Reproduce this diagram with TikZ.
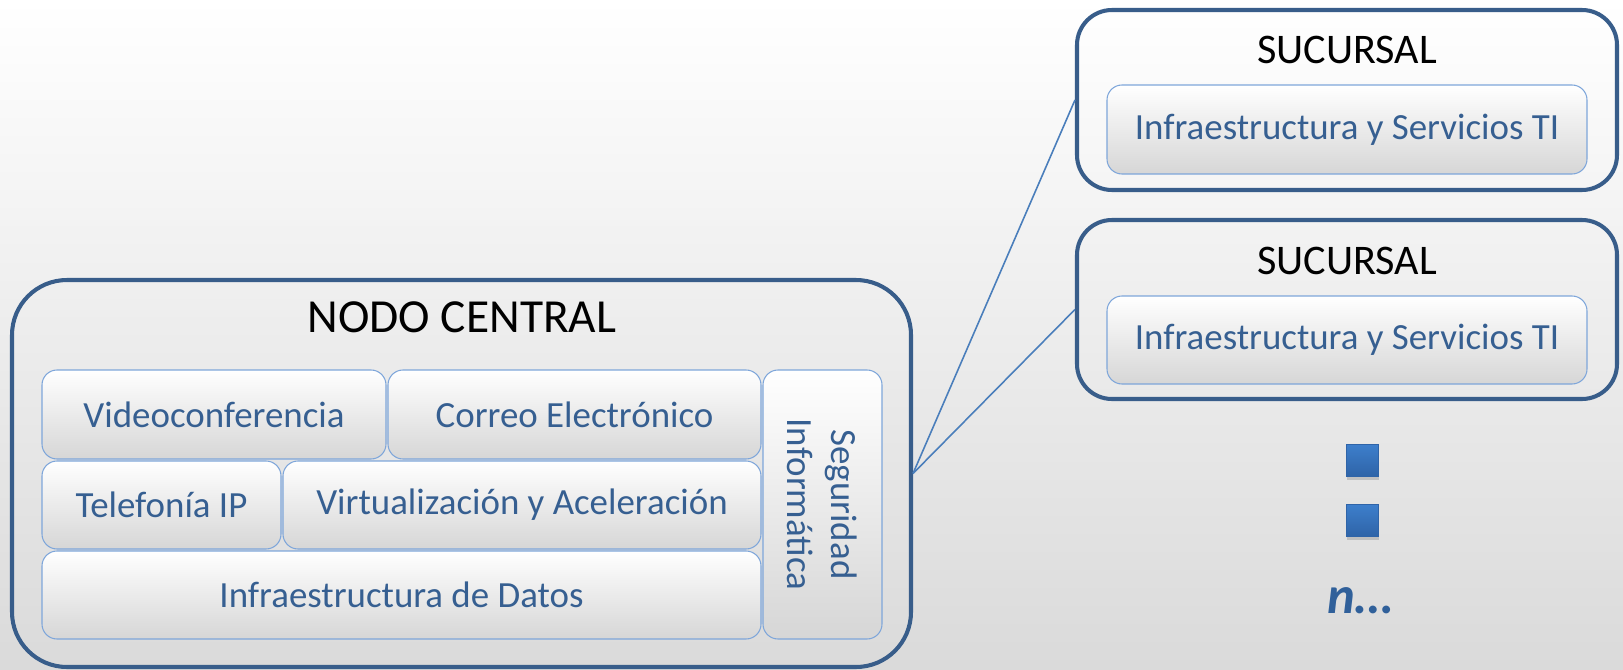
\documentclass[tikz,border=0pt]{standalone}
\usepackage{fontspec}
\setmainfont{Carlito}
\usetikzlibrary{shadows}
\definecolor{marco}{RGB}{56,93,138}
\definecolor{borde}{RGB}{126,166,218}
\definecolor{texto}{RGB}{54,95,145}
\definecolor{enlace}{RGB}{74,126,187}
\definecolor{fondo}{RGB}{218,218,218}
\definecolor{gris}{RGB}{214,214,214}
\definecolor{puntoA}{RGB}{61,127,204}
\definecolor{puntoB}{RGB}{47,100,168}
\definecolor{ene}{RGB}{48,96,154}
\tikzset{
  bloque/.style={draw=marco,line width=2.3pt,inner sep=0pt},
  celda/.style={draw=borde,line width=0.6pt,rounded corners=0.3cm,top color=white,bottom color=gris,
    text=texto,inner sep=0pt,font=\fontsize{21}{25}\selectfont},
  titulo/.style={anchor=base,font=\fontsize{27}{32}\selectfont},
  enlace/.style={draw=enlace,line width=0.9pt},
  punto/.style={draw=puntoB,line width=0.4pt,top color=puntoA,bottom color=puntoB,minimum size=0.64cm,
    inner sep=0pt,drop shadow={opacity=0.35,shadow xshift=0.4pt,shadow yshift=-2.5pt}}
}
\begin{document}
\begin{tikzpicture}
        \useasboundingbox (0,0) rectangle (32.46,13.38);
        \shade[top color=white,bottom color=fondo] (0,0) rectangle (32.46,13.38);
        \node[bloque,rounded corners=1.1cm,minimum width=17.98cm,minimum height=7.74cm] (nodo) at (9.23,3.91) {};
        \node[titulo] (nodotitulo) at (9.24,6.74) {NODO CENTRAL};
        \node[celda,minimum width=6.88cm,minimum height=1.78cm] (video) at (4.28,5.09) {Videoconferencia};
        \node[celda,minimum width=7.46cm,minimum height=1.78cm] (correo) at (11.49,5.09) {Correo Electrónico};
        \node[celda,minimum width=4.78cm,minimum height=1.76cm] (telefonia) at (3.23,3.28) {Telefonía IP};
        \node[celda,minimum width=9.56cm,minimum height=1.76cm] (virtual) at (10.44,3.28) {Virtualización y Aceleración};
        \node[celda,minimum width=14.38cm,minimum height=1.76cm] (datos) at (8.03,1.48) {Infraestructura de Datos};
        \node[celda,rotate=-90,align=center,minimum width=5.38cm,minimum height=2.38cm] (seguridad) at (16.45,3.29) {Seguridad\\Informática};
        \node[bloque,rounded corners=0.7cm,minimum width=10.8cm,minimum height=3.6cm] (suc1) at (26.94,11.38) {};
        \node[titulo,font=\fontsize{24}{28}\selectfont] (suc1titulo) at (26.94,12.1) {SUCURSAL};
        \node[celda,minimum width=9.6cm,minimum height=1.78cm] (infra1) at (26.94,10.79) {Infraestructura y Servicios TI};
        \node[bloque,rounded corners=0.7cm,minimum width=10.8cm,minimum height=3.58cm] (suc2) at (26.94,7.19) {};
        \node[titulo,font=\fontsize{24}{28}\selectfont] (suc2titulo) at (26.94,7.9) {SUCURSAL};
        \node[celda,minimum width=9.6cm,minimum height=1.76cm] (infra2) at (26.94,6.58) {Infraestructura y Servicios TI};
        \draw[enlace] (nodo.east) -- (suc1.west);
        \draw[enlace] (nodo.east) -- (suc2.west);
        \node[punto] (punto1) at (27.24,4.18) {};
        \node[punto] (punto2) at (27.24,2.98) {};
        \node[anchor=base,text=ene,font=\fontsize{30}{34}\selectfont\bfseries\itshape] (mas) at (27.2,1.12) {n…};
\end{tikzpicture}
\end{document}
